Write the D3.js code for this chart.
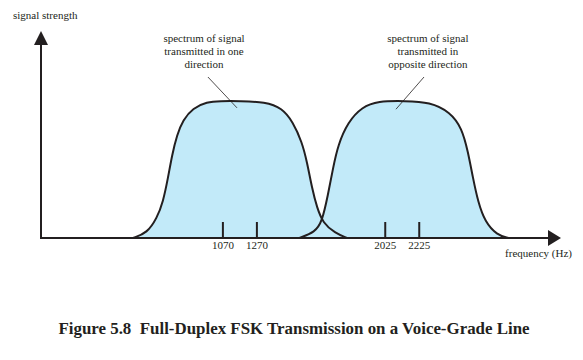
<!DOCTYPE html>
<html>
<head>
<meta charset="utf-8">
<script src="https://cdn.jsdelivr.net/npm/d3@7"></script>
<style>
  body { margin: 0; background: #fff; }
  text { font-family: "Liberation Serif", "DejaVu Serif", serif; fill: #231f20; }
</style>
</head>
<body>
<svg></svg>
<script>
const width = 583;
const height = 360;

// spectrum of each direction: [frequency Hz, relative strength]
const bandOne = [
  [541, 0], [624, 0.036], [682, 0.146], [718, 0.263], [747, 0.438], [771, 0.606],
  [800, 0.752], [835, 0.861], [894, 0.949], [976, 0.993], [1053, 1], [1170, 1],
  [1318, 0.993], [1418, 0.949], [1482, 0.847], [1535, 0.701], [1565, 0.555],
  [1594, 0.365], [1624, 0.219], [1659, 0.109], [1729, 0.036], [1800, 0]
];
const bandTwo = [
  [1520, 0], [1612, 0.044], [1653, 0.117], [1688, 0.314], [1718, 0.511], [1747, 0.679],
  [1806, 0.847], [1888, 0.956], [1982, 1], [2140, 1], [2288, 0.993], [2406, 0.92],
  [2476, 0.803], [2512, 0.628], [2541, 0.438], [2571, 0.263], [2612, 0.117],
  [2682, 0.022], [2750, 0]
];
const tickFreqs = [1070, 1270, 2025, 2225];
const tickLabels = ["1070", "1270", "2025", "2225"];
const notes = [
  { lines: ["spectrum of signal", "transmitted in one", "direction"], at: 959, from: 982, to: [1153, 0.95] },
  { lines: ["spectrum of signal", "transmitted in", "opposite direction"], at: 2276, from: 2253, to: [2088, 0.94] }
];

const svg = d3.select('svg').attr('width', width).attr('height', height);

const x = d3.scaleLinear().domain([0, 3053]).range([41, 560]);
const y = d3.scaleLinear().domain([0, 1]).range([238, 101]);
const ink = '#231f20';

const area = d3.area()
  .x(d => x(d[0]))
  .y0(y(0))
  .y1(d => y(d[1]))
  .curve(d3.curveBasis);
const line = d3.line()
  .x(d => x(d[0]))
  .y(d => y(d[1]))
  .curve(d3.curveBasis);

const bands = [bandOne, bandTwo];
svg.selectAll('.fill').data(bands).enter().append('path')
  .attr('class', 'fill')
  .attr('d', area)
  .attr('fill', '#c2eaf9');
svg.selectAll('.edge').data(bands).enter().append('path')
  .attr('class', 'edge')
  .attr('d', line)
  .attr('fill', 'none')
  .attr('stroke', ink)
  .attr('stroke-width', 2);

// axes with arrow heads
svg.append('line')
  .attr('x1', x(0)).attr('y1', y(0)).attr('x2', 548).attr('y2', y(0))
  .attr('stroke', ink).attr('stroke-width', 2);
svg.append('path')
  .attr('d', 'M548,230 L561,238 L548,246 Z')
  .attr('fill', ink);
svg.append('line')
  .attr('x1', x(0)).attr('y1', y(0) + 1).attr('x2', x(0)).attr('y2', 44)
  .attr('stroke', ink).attr('stroke-width', 2);
svg.append('path')
  .attr('d', 'M34,45 L41,31 L48,45 Z')
  .attr('fill', ink);

// frequency ticks
svg.selectAll('.tick').data(tickFreqs).enter().append('line')
  .attr('class', 'tick')
  .attr('x1', d => x(d)).attr('x2', d => x(d))
  .attr('y1', y(0)).attr('y2', y(0) - 16)
  .attr('stroke', ink).attr('stroke-width', 2);
svg.selectAll('.ticklabel').data(tickFreqs).enter().append('text')
  .attr('class', 'ticklabel')
  .attr('x', d => x(d)).attr('y', 249)
  .attr('text-anchor', 'middle')
  .style('font-size', '11px')
  .text((d, i) => tickLabels[i]);

svg.append('text')
  .attr('x', 13).attr('y', 19)
  .style('font-size', '11px')
  .text('signal strength');
svg.append('text')
  .attr('x', 572).attr('y', 257)
  .attr('text-anchor', 'end')
  .style('font-size', '11px')
  .text('frequency (Hz)');

// callouts
notes.forEach(n => {
  const t = svg.append('text')
    .attr('text-anchor', 'middle')
    .style('font-size', '11px');
  n.lines.forEach((s, i) => {
    t.append('tspan').attr('x', x(n.at)).attr('y', 42 + i * 13).text(s);
  });
  svg.append('line')
    .attr('x1', x(n.from)).attr('y1', 77)
    .attr('x2', x(n.to[0])).attr('y2', y(n.to[1]))
    .attr('stroke', ink).attr('stroke-width', 0.8);
});

svg.append('text')
  .attr('x', 294).attr('y', 334)
  .attr('text-anchor', 'middle')
  .style('font-size', '16.9px')
  .style('font-weight', 'bold')
  .attr('xml:space', 'preserve')
  .text('Figure 5.8  Full-Duplex FSK Transmission on a Voice-Grade Line');
</script>
</body>
</html>
